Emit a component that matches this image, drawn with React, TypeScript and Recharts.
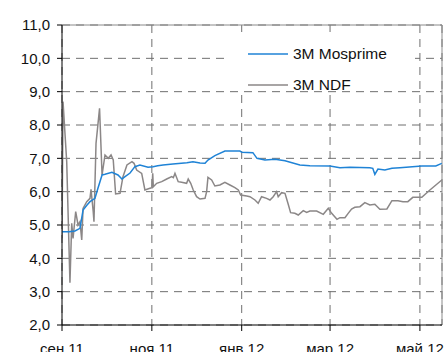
import {
  LineChart,
  Line,
  XAxis,
  YAxis,
  CartesianGrid,
  ReferenceLine,
  Legend,
} from "recharts";

// x positions are days counted from 1 Sep 2011
const mosDays = [
  0, 4.8, 8.8, 12.2, 14.3, 17, 19, 22.4, 24.4, 27.2, 29.2, 33.9, 38, 40.7,
  42.8, 46.2, 49.5, 52.9, 58.4, 61.8, 65, 68.6, 75.3, 84.8, 88.9, 93.7, 97.1,
  99.1, 103.8, 110.6, 120.8, 122.2, 129.6, 132.4, 137.8, 144.6, 151.4, 161.5,
  168.3, 181.9, 188.7, 195.5, 209, 211, 212.4, 214.5, 219.2, 224, 229.4, 244.3,
  253.8, 257.9,
];
const mosValues = [
  4.8, 4.8, 4.82, 4.9, 5.45, 5.6, 5.7, 5.8, 6.1, 6.5, 6.52, 6.58, 6.5, 6.38,
  6.45, 6.56, 6.75, 6.8, 6.73, 6.75, 6.78, 6.8, 6.83, 6.87, 6.9, 6.86, 6.85,
  6.95, 7.08, 7.22, 7.22, 7.18, 7.17, 7.0, 6.95, 6.97, 6.93, 6.8, 6.78, 6.77,
  6.72, 6.73, 6.72, 6.7, 6.52, 6.68, 6.65, 6.7, 6.72, 6.77, 6.77, 6.85,
];

const ndfDays = [
  0, 0.7, 3.2, 5.4, 6.6, 7.5, 9.3, 10.9, 12.2, 13.4, 14.3, 16.8, 19, 19.7,
  21.2, 21.7, 23.1, 25.5, 27.2, 29.2, 31.4, 33.3, 34.8, 36.4, 39.4, 41.4, 44.1,
  47.5, 48.9, 50.7, 54.1, 56.3, 59.7, 61.1, 61.6, 62, 64.3, 67.7, 71.1, 74.5,
  75.6, 76.7, 78.9, 81.2, 84.6, 85.7, 87.4, 89.1, 91.4, 93.7, 97.1, 98.2, 99.1,
  101.6, 103.8, 107.2, 110.6, 114, 117.4, 119.7, 121.3, 125.4, 127.6, 131,
  133.2, 135.5, 138.9, 141.2, 143.4, 145.7, 146.8, 149.1, 151.4, 153.6, 155.2,
  158.1, 160.4, 163.8, 166.1, 168.3, 172.9, 177.4, 180.8, 183.1, 186.7, 188.7,
  192.1, 194.3, 196.6, 198.8, 202.3, 205.6, 209, 212.4, 215.8, 220.6, 224,
  228.1, 231.5, 234.8, 238.2, 244.3, 249.8, 257.9,
];
const ndfValues = [
  4.6, 8.7, 6.9, 3.27, 5.05, 4.6, 5.4, 5.0, 5.1, 4.55, 5.5, 5.7, 5.8, 6.07,
  5.4, 5.1, 7.45, 8.5, 6.5, 7.1, 7.0, 7.1, 6.95, 5.93, 5.95, 6.45, 6.8, 6.9,
  6.85, 6.65, 6.55, 6.05, 6.1, 6.12, 6.55, 6.15, 6.25, 6.3, 6.38, 6.45, 6.42,
  6.55, 6.3, 6.28, 6.25, 6.38, 6.25, 6.05, 5.85, 5.78, 5.8, 6.0, 6.43, 6.35,
  6.17, 6.2, 6.28, 6.2, 6.12, 6.05, 5.9, 5.87, 5.85, 5.75, 5.65, 5.85, 5.8,
  5.75, 5.85, 6.0, 5.85, 5.97, 5.95, 5.62, 5.37, 5.35, 5.3, 5.43, 5.38, 5.42,
  5.42, 5.32, 5.5, 5.35, 5.17, 5.22, 5.22, 5.35, 5.48, 5.53, 5.55, 5.67, 5.6,
  5.62, 5.47, 5.48, 5.73, 5.73, 5.7, 5.7, 5.83, 5.83, 6.05, 6.35,
];

const monthTicks = [0, 61, 122, 182, 243];
const monthLabels = ["сен 11", "ноя 11", "янв 12", "мар 12", "май 12"];
const yTicks = [2, 3, 4, 5, 6, 7, 8, 9, 10, 11];
const lastDay = 258;

const seriesNames = ["3M Mosprime", "3M NDF"];
const seriesColors = ["#1f83d6", "#8b8787"];

const font = "'Liberation Sans', Arial, sans-serif";

const mosData = mosDays.map((d, i) => ({ day: d, mos: mosValues[i] }));
const ndfData = ndfDays.map((d, i) => ({ day: d, ndf: ndfValues[i] }));

function LegendBox() {
  return (
    <div style={{ paddingTop: 6, fontFamily: font, fontSize: 15.5, color: "#111" }}>
      {seriesNames.map((name, i) => (
        <div
          key={name}
          style={{ display: "flex", alignItems: "center", height: 31, marginLeft: 24 }}
        >
          <svg width={40} height={4} style={{ marginRight: 5 }}>
            <line x1={0} y1={2} x2={40} y2={2} stroke={seriesColors[i]} strokeWidth={1.5} />
          </svg>
          <span>{name}</span>
        </div>
      ))}
    </div>
  );
}

export default function App() {
  return (
    <div style={{ position: "absolute", left: 0, top: 0, width: 446, height: 352 }}>
      <LineChart
        width={446}
        height={352}
        margin={{ top: 25, right: 4, bottom: 0, left: 0 }}
      >
        <CartesianGrid stroke="#6f6f6f" strokeDasharray="8 6" />
        <ReferenceLine y={11} stroke="#8a8a8a" />
        <ReferenceLine x={lastDay} stroke="#8a8a8a" />
        <XAxis
          type="number"
          dataKey="day"
          domain={[0, lastDay]}
          ticks={monthTicks}
          tickFormatter={(v) => monthLabels[monthTicks.indexOf(v)] ?? ""}
          height={27}
          tickSize={6}
          tickMargin={12}
          stroke="#000"
          tick={{ fill: "#111", fontSize: 15, fontFamily: font }}
          allowDataOverflow
        />
        <YAxis
          type="number"
          domain={[2, 11]}
          ticks={yTicks}
          tickFormatter={(v) => v.toFixed(1).replace(".", ",")}
          width={62}
          tickSize={5}
          tickMargin={7}
          stroke="#000"
          tick={{ fill: "#111", fontSize: 15, fontFamily: font }}
        />
        <Legend
          layout="horizontal"
          verticalAlign="middle"
          align="center"
          content={() => <LegendBox />}
          wrapperStyle={{ left: 224, top: 32, width: 191, height: 57, background: "#fff" }}
        />
        <Line
          data={ndfData}
          dataKey="ndf"
          type="linear"
          stroke={seriesColors[1]}
          strokeWidth={1.5}
          dot={false}
          isAnimationActive={false}
        />
        <Line
          data={mosData}
          dataKey="mos"
          type="linear"
          stroke={seriesColors[0]}
          strokeWidth={1.5}
          dot={false}
          isAnimationActive={false}
        />
      </LineChart>
    </div>
  );
}
